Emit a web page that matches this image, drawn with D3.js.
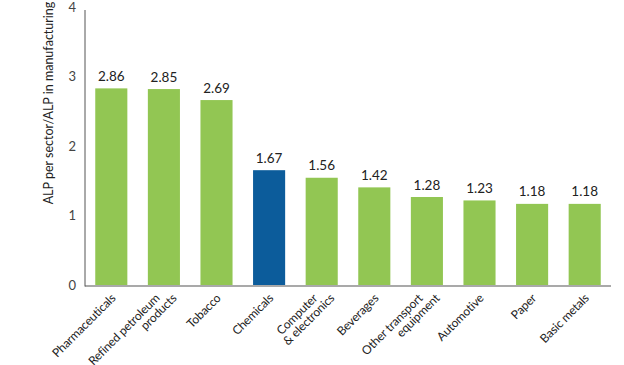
<!DOCTYPE html>
<html>
<head>
<meta charset="utf-8">
<script src="https://cdn.jsdelivr.net/npm/d3@7"></script>
<style>
  html, body { margin: 0; padding: 0; background: #fff; }
  svg { display: block; font-family: Lato, "Open Sans", sans-serif; }
</style>
</head>
<body>
<svg id="chart" width="624" height="365"></svg>
<script>
const categories = ["Pharmaceuticals", "Refined petroleum\nproducts", "Tobacco", "Chemicals", "Computer\n& electronics", "Beverages", "Other transport\nequipment", "Automotive", "Paper", "Basic metals"];
const values = [2.86, 2.85, 2.69, 1.67, 1.56, 1.42, 1.28, 1.23, 1.18, 1.18];
const highlight = ["Chemicals"];
const yTicks = [0, 1, 2, 3, 4];
const yTitle = "ALP per sector/ALP in manufacturing";

const svg = d3.select("#chart");
const green = "#92C653", blue = "#0C5C9B";

const x = d3.scaleBand().domain(categories).range([85, 611]).paddingInner(0.39).paddingOuter(0.195);
const y = d3.scaleLinear().domain([0, 4]).range([285, 10]);

// y axis
const yAxis = d3.axisLeft(y).tickValues(yTicks).tickSize(0).tickPadding(9).tickFormat(d3.format("d"));
const gy = svg.append("g").attr("transform", "translate(85,0)").call(yAxis);
gy.select(".domain").attr("stroke", "#555").attr("stroke-width", 1).attr("d", `M0,${y(4)}V${y(0)+1.5}`);
gy.selectAll("text").attr("font-size", 13).attr("fill", "#444").attr("font-family", "Lato, sans-serif")
  .attr("dy", d => (0.32 - (d / 4) * 0.2) + "em");

// bars
svg.append("g").selectAll("rect").data(categories).join("rect")
  .attr("x", d => x(d))
  .attr("width", x.bandwidth())
  .attr("y", (d, i) => y(values[i]))
  .attr("height", (d, i) => y(0) - y(values[i]))
  .attr("fill", d => highlight.includes(d) ? blue : green);

// x axis baseline
svg.append("line").attr("x1", 85).attr("x2", 611).attr("y1", y(0) + 1).attr("y2", y(0) + 1)
  .attr("stroke", "#555").attr("stroke-width", 1.2);

// value labels
svg.append("g").selectAll("text").data(categories).join("text")
  .attr("x", d => x(d) + x.bandwidth() / 2)
  .attr("y", (d, i) => y(values[i]) - 7.5)
  .attr("text-anchor", "middle")
  .attr("font-size", 13.5)
  .attr("fill", "#222")
  .text((d, i) => values[i].toFixed(2));

// category labels: rotated -45, line ends aligned along a horizontal line
const dxLine = 17;
categories.forEach(cat => {
  const lines = cat.split("\n");
  const g = svg.append("g")
    .attr("transform", `translate(${x(cat) + x.bandwidth() / 2 + 2},${296}) rotate(-45)`);
  lines.forEach((ln, i) => {
    const s = (i - (lines.length - 1) / 2) * dxLine;
    g.append("text")
      .attr("font-size", 12)
      .attr("fill", "#222")
      .attr("letter-spacing", -0.15)
      .attr("text-anchor", "end")
      .attr("dy", "0.35em")
      .attr("x", s * Math.SQRT1_2)
      .attr("y", s * Math.SQRT1_2)
      .text(ln);
  });
});

// y title
svg.append("text")
  .attr("transform", `translate(49,103) rotate(-90)`)
  .attr("text-anchor", "middle")
  .attr("dy", "0.35em")
  .attr("font-size", 12.5)
  .attr("fill", "#222")
  .text(yTitle);
</script>
</body>
</html>
